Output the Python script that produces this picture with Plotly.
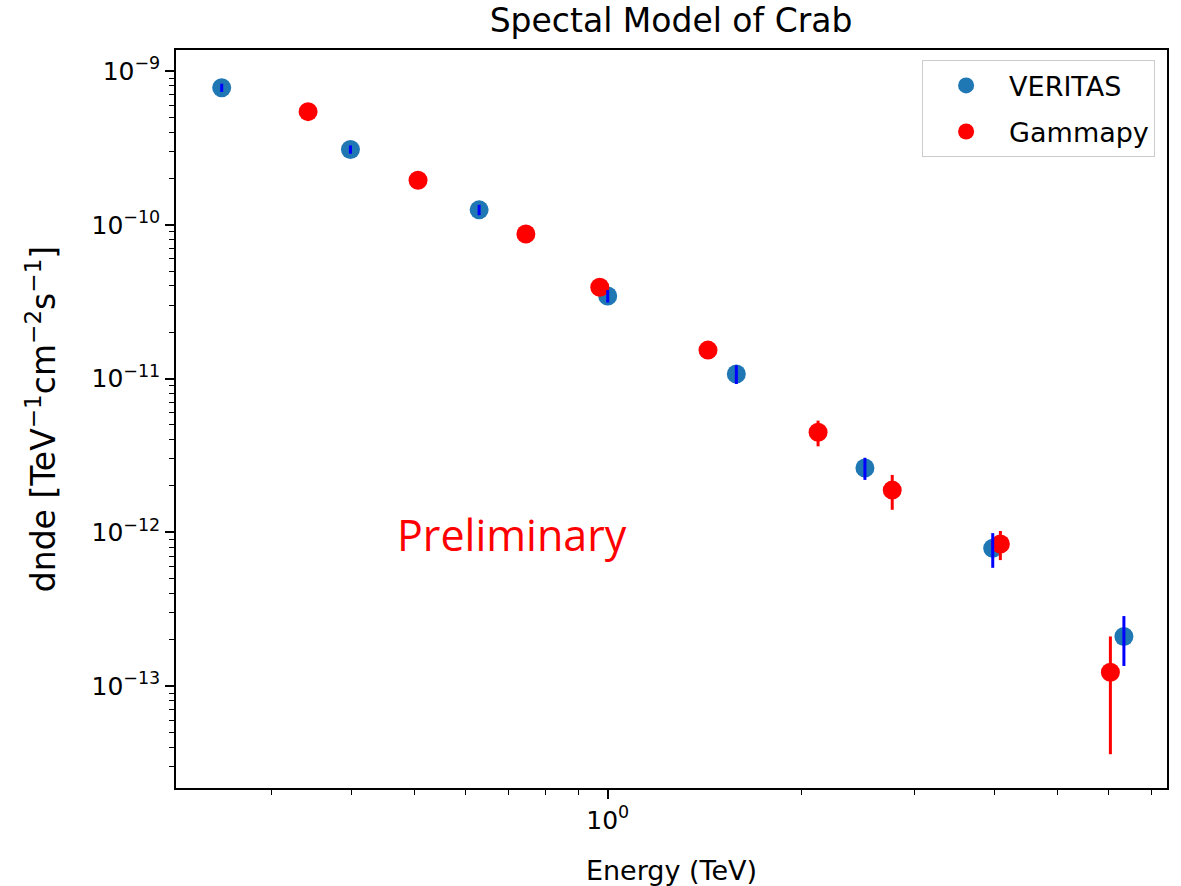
import plotly.graph_objects as go

# Spectral points (energy in TeV, dnde in TeV^-1 cm^-2 s^-1)
veritas_energy = [0.251, 0.398, 0.631, 1.0, 1.585, 2.512, 3.97, 6.35]
veritas_dnde = [7.79e-10, 3.09e-10, 1.25e-10, 3.44e-11, 1.07e-11, 2.62e-12, 7.87e-13, 2.10e-13]
veritas_err = [4.8e-11, 1.9e-11, 9.7e-12, 3.2e-12, 1.49e-12, 4.3e-13, 2.0e-13, 7.5e-14]

gammapy_energy = [0.342, 0.507, 0.746, 0.972, 1.432, 2.124, 2.77, 4.08, 6.05]
gammapy_dnde = [5.44e-10, 1.95e-10, 8.71e-11, 3.92e-11, 1.53e-11, 4.47e-12, 1.88e-12, 8.39e-13, 1.23e-13]
gammapy_err = [2.2e-11, 7.8e-12, 3.5e-12, 1.6e-12, 1.1e-12, 8.5e-13, 4.8e-13, 1.8e-13, 8.7e-14]

# Axis ticks
x_major = [1.0]
x_major_text = ["10<sup>0</sup>"]
x_minor = [0.3, 0.4, 0.5, 0.6, 0.7, 0.8, 0.9, 2, 3, 4, 5, 6, 7]
y_major = [1e-13, 1e-12, 1e-11, 1e-10, 1e-9]
y_major_text = ["10<sup>" + s + "</sup>" for s in ["−13", "−12", "−11", "−10", "−9"]]
y_minor = [m * 10.0 ** e for e in range(-14, -9) for m in range(2, 10)]

FONT = "DejaVu Sans"

fig = go.Figure()

# markers first, error bars drawn on top afterwards
fig.add_trace(go.Scatter(
    x=veritas_energy, y=veritas_dnde, mode="markers", name="VERITAS",
    legendgroup="veritas",
    marker=dict(color="#1f77b4", size=19, line=dict(width=0)),
))
fig.add_trace(go.Scatter(
    x=gammapy_energy, y=gammapy_dnde, mode="markers", name="Gammapy",
    legendgroup="gammapy",
    marker=dict(color="red", size=19, line=dict(width=0)),
))
fig.add_trace(go.Scatter(
    x=veritas_energy, y=veritas_dnde, mode="markers", showlegend=False,
    legendgroup="veritas",
    marker=dict(color="rgba(0,0,0,0)", size=1),
    error_y=dict(type="data", array=veritas_err, color="blue", thickness=3, width=0),
    hoverinfo="skip",
))
fig.add_trace(go.Scatter(
    x=gammapy_energy, y=gammapy_dnde, mode="markers", showlegend=False,
    legendgroup="gammapy",
    marker=dict(color="rgba(0,0,0,0)", size=1),
    error_y=dict(type="data", array=gammapy_err, color="red", thickness=3, width=0),
    hoverinfo="skip",
))

axis_common = dict(
    type="log", showgrid=False, zeroline=False, automargin=False,
    showline=True, linecolor="black", linewidth=1.5, mirror=True,
    ticks="outside", ticklen=9, tickwidth=1.5, tickcolor="black",
    tickfont=dict(family=FONT, size=25, color="black"),
)

fig.update_xaxes(
    **axis_common,
    range=[-0.6714, 0.8698],
    tickmode="array", tickvals=x_major, ticktext=x_major_text,
    minor=dict(tickmode="array", tickvals=x_minor, ticks="outside",
               ticklen=5, tickwidth=1.2, tickcolor="black", showgrid=False),
    title=dict(text="Energy (TeV)", font=dict(family=FONT, size=27, color="black"),
               standoff=30),
)
fig.update_yaxes(
    **axis_common,
    range=[-13.6634, -8.8634],
    tickmode="array", tickvals=y_major, ticktext=y_major_text,
    minor=dict(tickmode="array", tickvals=y_minor, ticks="outside",
               ticklen=5, tickwidth=1.2, tickcolor="black", showgrid=False),
    title=dict(text="dnde [TeV<sup>−1</sup>cm<sup>−2</sup>s<sup>−1</sup>]",
               font=dict(family=FONT, size=33, color="black"), standoff=26),
)

fig.add_annotation(
    text="Preliminary", xref="paper", yref="paper", x=0.339, y=0.343,
    xanchor="center", yanchor="middle", showarrow=False,
    font=dict(family="Open Sans", size=43, color="red"),
)

fig.update_layout(
    width=1181, height=886,
    margin=dict(l=176, r=14, t=50, b=98),
    paper_bgcolor="white", plot_bgcolor="white",
    title=dict(text="Spectal Model of Crab", x=0.5682, xanchor="center",
               y=0.977, yanchor="middle", yref="container",
               font=dict(family=FONT, size=33, color="black")),
    legend=dict(
        x=0.988, y=0.986, xanchor="right", yanchor="top",
        bgcolor="white", bordercolor="#cccccc", borderwidth=1,
        font=dict(family=FONT, size=27, color="black"),
        itemwidth=76, tracegroupgap=8, traceorder="grouped",
    ),
    showlegend=True,
)

fig.write_html("out.html")
